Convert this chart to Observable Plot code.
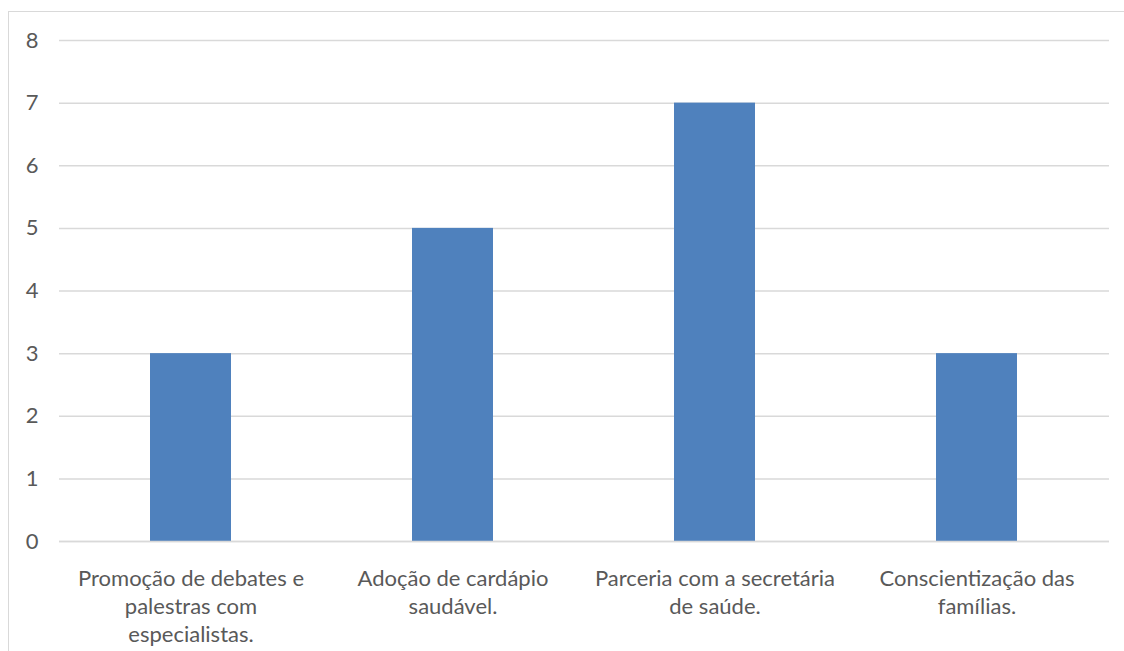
<!DOCTYPE html>
<html>
<head>
<meta charset="utf-8">
<script src="https://cdn.jsdelivr.net/npm/d3@7"></script>
<script src="https://cdn.jsdelivr.net/npm/@observablehq/plot@0.6"></script>
<style>
  html, body { margin: 0; padding: 0; background: #fff; overflow: hidden; }
  #frame { position: absolute; left: 8px; top: 11px; width: 1300px; height: 800px;
           border: 1.5px solid #d9d9d9; box-sizing: border-box; }
  #chart { position: absolute; left: 0; top: 0; }
</style>
</head>
<body>
<div id="frame"></div>
<div id="chart"></div>
<script>
const categories = [
  "Promoção de debates e palestras com especialistas.",
  "Adoção de cardápio saudável.",
  "Parceria com a secretária de saúde.",
  "Conscientização das famílias."
];
const tickLabels = [
  "Promoção de debates e\npalestras com\nespecialistas.",
  "Adoção de cardápio\nsaudável.",
  "Parceria com a secretária\nde saúde.",
  "Conscientização das\nfamílias."
];
const values = [3, 5, 7, 3];
const yTicks = [0, 1, 2, 3, 4, 5, 6, 7, 8];

const data = categories.map((c, i) => ({category: c, value: values[i]}));
const labelOf = new Map(categories.map((c, i) => [c, tickLabels[i]]));

const chart = Plot.plot({
  width: 1124,
  height: 651,
  marginLeft: 59,
  marginRight: 15,
  marginTop: 40,
  marginBottom: 110,
  style: {fontFamily: "Lato, 'Open Sans', sans-serif", background: "transparent"},
  x: {domain: categories, paddingInner: 0.69, paddingOuter: 0.345, label: null},
  y: {domain: [0, 8], label: null},
  marks: [
    Plot.gridY(yTicks, {stroke: "#d9d9d9", strokeOpacity: 1, strokeWidth: 1.5}),
    Plot.barY(data, {x: "category", y: "value", fill: "#4f81bd"}),
    Plot.ruleY([0], {stroke: "#d9d9d9", strokeWidth: 1.5}),
    Plot.axisY(yTicks, {tickSize: 0, tickPadding: 21, fontSize: 22, fill: "#595959", label: null,
                        tickFormat: d3.format("d")}),
    Plot.axisX({tickSize: 0, tickPadding: 25, fontSize: 22, fill: "#595959", lineHeight: 1.27,
                tickFormat: d => labelOf.get(d), label: null})
  ]
});
document.getElementById("chart").appendChild(chart);
</script>
</body>
</html>
